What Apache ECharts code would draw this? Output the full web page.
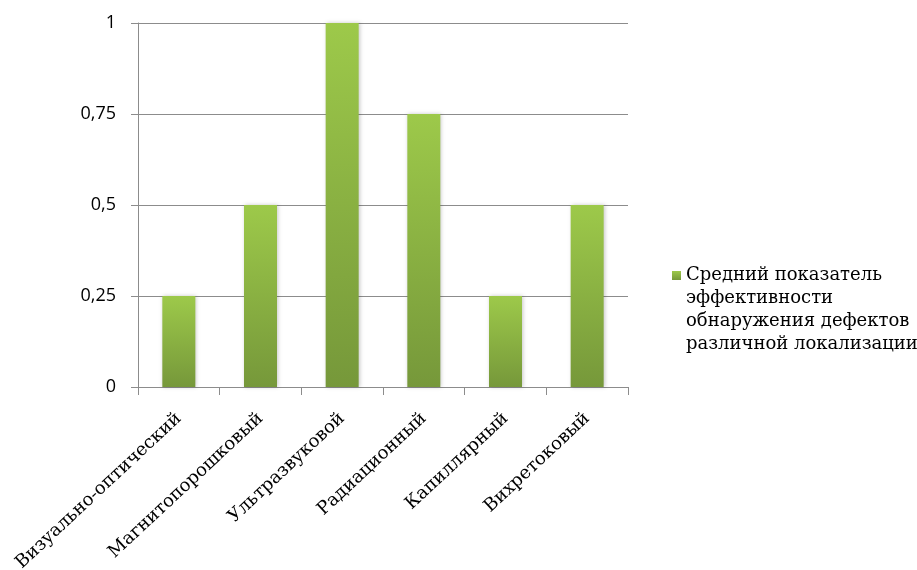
<!DOCTYPE html>
<html>
<head>
<meta charset="utf-8">
<script src="https://cdn.jsdelivr.net/npm/echarts@6/dist/echarts.min.js"></script>
<style>
  html, body { margin: 0; padding: 0; background: #fff; }
  #chart { width: 917px; height: 570px; }
</style>
</head>
<body>
<div id="chart"></div>
<script>
// Methods of non-destructive testing
const categories = [
  'Визуально-оптический',
  'Магнитопорошковый',
  'Ультразвуковой',
  'Радиационный',
  'Капиллярный',
  'Вихретоковый'
];
// Mean detection efficiency for defects of various localisation
const efficiency = [0.25, 0.5, 1, 0.75, 0.25, 0.5];
const seriesName = 'Средний показатель\nэффективности\nобнаружения дефектов\nразличной локализации';
const yTicks = [0, 0.25, 0.5, 0.75, 1];

const chart = echarts.init(document.getElementById('chart'), null, { renderer: 'canvas' });

const serif = '"DejaVu Serif", "Liberation Serif", serif';
const sans = '"Open Sans", "Noto Sans", sans-serif';

chart.setOption({
  animation: false,
  backgroundColor: '#ffffff',
  grid: {
    left: 138, right: 289, top: 23, bottom: 183,
    containLabel: false,
    outerBoundsMode: 'none'
  },
  legend: {
    left: 667,
    top: 190,
    orient: 'vertical',
    icon: 'rect',
    itemWidth: 9,
    itemHeight: 9,
    itemGap: 0,
    data: [seriesName],
    // blank leading lines keep the marker beside the first line of the caption
    formatter: name => '\n\n\n' + name,
    textStyle: {
      fontFamily: serif,
      fontSize: 18,
      color: '#000',
      lineHeight: 23
    }
  },
  xAxis: {
    type: 'category',
    data: categories,
    boundaryGap: true,
    axisLine: { lineStyle: { color: '#8c8c8c', width: 1 } },
    axisTick: { show: true, length: 8, alignWithLabel: false, lineStyle: { color: '#8c8c8c' } },
    axisLabel: {
      rotate: 43,
      margin: 29,
      interval: 0,
      fontFamily: serif,
      fontSize: 18,
      color: '#000'
    }
  },
  yAxis: {
    type: 'value',
    min: yTicks[0],
    max: yTicks[yTicks.length - 1],
    interval: 0.25,
    axisLine: { show: true, lineStyle: { color: '#8c8c8c', width: 1 } },
    axisTick: { show: true, length: 7, lineStyle: { color: '#8c8c8c' } },
    splitLine: { show: true, lineStyle: { color: '#8c8c8c', width: 1 } },
    axisLabel: {
      margin: 22,
      fontFamily: sans,
      fontSize: 18,
      color: '#000',
      formatter: v => String(v).replace('.', ',')
    }
  },
  series: [{
    name: seriesName,
    type: 'bar',
    data: efficiency,
    barWidth: 33,
    itemStyle: {
      color: new echarts.graphic.LinearGradient(0, 0, 0, 1, [
        { offset: 0, color: '#9dc94a' },
        { offset: 1, color: '#76983a' }
      ]),
      shadowBlur: 4,
      shadowColor: 'rgba(0,0,0,0.22)',
      shadowOffsetX: 1,
      shadowOffsetY: 0
    }
  }]
});
</script>
</body>
</html>
